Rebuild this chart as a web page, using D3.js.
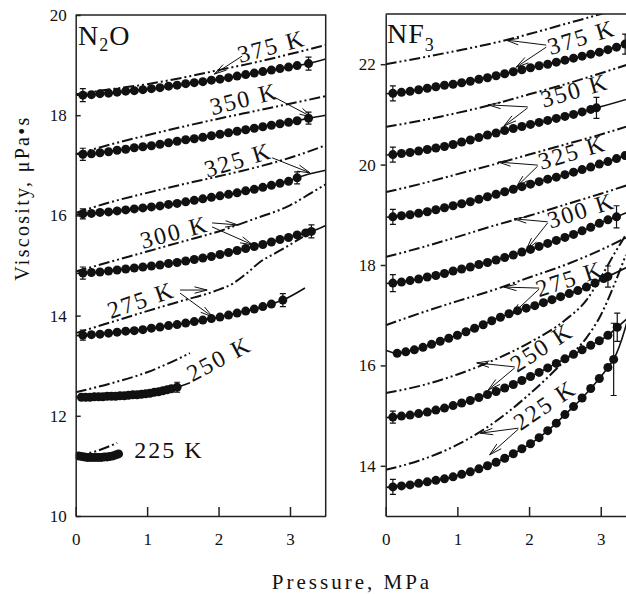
<!DOCTYPE html>
<html><head><meta charset="utf-8">
<script src="https://cdn.jsdelivr.net/npm/d3@7"></script>
<style>
body{margin:0;background:#fff}
svg{display:block}
text{font-family:"Liberation Serif","Times New Roman",serif;fill:#111}
</style>
</head><body>
<svg id="c" width="626" height="594"></svg>
<script>
// ---------------- DATA ----------------
const xTicks = [0, 1, 2, 3];
const n2oYTicks = [10, 12, 14, 16, 18, 20];
const nf3YTicks = [14, 16, 18, 20, 22];
const tempLabels = ["375 K", "350 K", "325 K", "300 K", "275 K", "250 K", "225 K"];

// N2O measured points
const n2oP375 = [0.10,0.22,0.34,0.46,0.58,0.70,0.82,0.94,1.06,1.18,1.30,1.42,1.54,1.66,1.78,1.90,2.02,2.14,2.26,2.38,2.50,2.62,2.74,2.86,2.98,3.10,3.26];
const n2oV375 = [18.40,18.41,18.43,18.44,18.46,18.48,18.49,18.51,18.53,18.55,18.58,18.60,18.63,18.65,18.67,18.70,18.72,18.75,18.78,18.81,18.84,18.87,18.90,18.93,18.96,18.99,19.03];
const n2oP350 = [0.10,0.22,0.34,0.46,0.58,0.70,0.82,0.94,1.06,1.18,1.30,1.42,1.54,1.66,1.78,1.90,2.02,2.14,2.26,2.38,2.50,2.62,2.74,2.86,2.98,3.10,3.26];
const n2oV350 = [17.22,17.23,17.25,17.27,17.30,17.32,17.35,17.37,17.39,17.42,17.45,17.48,17.51,17.53,17.56,17.59,17.62,17.65,17.68,17.71,17.74,17.77,17.80,17.83,17.86,17.89,17.94];
const n2oP325 = [0.10,0.22,0.34,0.46,0.58,0.70,0.82,0.94,1.06,1.18,1.30,1.42,1.54,1.66,1.78,1.90,2.02,2.14,2.26,2.38,2.50,2.62,2.74,2.86,2.98,3.10];
const n2oV325 = [16.03,16.04,16.06,16.07,16.09,16.11,16.13,16.15,16.17,16.19,16.22,16.24,16.27,16.30,16.33,16.36,16.39,16.42,16.45,16.49,16.52,16.56,16.60,16.64,16.68,16.75];
const n2oP300 = [0.10,0.22,0.34,0.46,0.58,0.70,0.82,0.94,1.06,1.18,1.30,1.42,1.54,1.66,1.78,1.90,2.02,2.14,2.26,2.38,2.50,2.62,2.74,2.86,2.98,3.10,3.22,3.30];
const n2oV300 = [14.85,14.86,14.87,14.89,14.91,14.93,14.95,14.97,14.99,15.01,15.04,15.06,15.09,15.12,15.15,15.18,15.22,15.26,15.30,15.34,15.38,15.42,15.47,15.52,15.56,15.61,15.65,15.68];
const n2oP275 = [0.10,0.22,0.34,0.46,0.58,0.70,0.82,0.94,1.06,1.18,1.30,1.42,1.54,1.66,1.78,1.90,2.02,2.14,2.26,2.38,2.50,2.62,2.74,2.90];
const n2oV275 = [13.61,13.62,13.63,13.65,13.67,13.69,13.70,13.72,13.75,13.77,13.80,13.82,13.85,13.88,13.91,13.94,13.97,14.01,14.05,14.09,14.13,14.18,14.23,14.31];
const n2oP250 = [0.08,0.14,0.20,0.26,0.32,0.38,0.44,0.50,0.56,0.62,0.68,0.74,0.80,0.86,0.92,0.98,1.04,1.10,1.16,1.22,1.28,1.34,1.42];
const n2oV250 = [12.37,12.37,12.37,12.38,12.38,12.38,12.39,12.39,12.39,12.40,12.40,12.41,12.42,12.42,12.43,12.44,12.45,12.47,12.48,12.50,12.52,12.54,12.57];
const n2oP225 = [0.04,0.08,0.12,0.16,0.20,0.24,0.28,0.32,0.36,0.40,0.44,0.48,0.52,0.56,0.60];
const n2oV225 = [11.20,11.19,11.18,11.17,11.17,11.17,11.17,11.17,11.17,11.18,11.18,11.19,11.20,11.22,11.24];
// N2O fitted (solid) line start value at p=0 and end point
const n2oLineStart = [18.40, 17.22, 16.02, 14.84, 13.60, 12.37, 11.21];
const n2oLineEnd = [[3.5,19.12],[3.5,18.00],[3.5,16.90],[3.5,15.80],[3.21,14.55],[1.6,12.66],null];
// N2O error bars [first point, last point] half-heights
const n2oErr = [[0.13,0.13],[0.12,0.12],[0.10,0.12],[0.12,0.13],[0.10,0.13],[0,0.10],[0,0]];
// N2O dash-dot model curves
const n2oDP375 = [0,0.5,1.0,1.5,2.0,2.5,3.0,3.5];
const n2oDV375 = [18.42,18.52,18.62,18.75,18.90,19.05,19.22,19.40];
const n2oDP350 = [0,0.5,1.0,1.5,2.0,2.5,3.0,3.5];
const n2oDV350 = [17.22,17.42,17.60,17.77,17.93,18.08,18.23,18.38];
const n2oDP325 = [0,0.5,1.0,1.5,2.0,2.5,3.0,3.5];
const n2oDV325 = [16.05,16.27,16.45,16.62,16.78,16.95,17.15,17.40];
const n2oDP300 = [0,0.5,1.0,1.5,2.0,2.5,3.0,3.3,3.5];
const n2oDV300 = [14.88,15.08,15.28,15.48,15.68,15.93,16.20,16.45,16.62];
const n2oDP275 = [0,0.5,1.0,1.5,1.95,2.2,2.4,2.58,2.8,3.04,3.18];
const n2oDV275 = [13.65,13.87,14.09,14.30,14.49,14.64,14.85,15.07,15.25,15.45,15.57];
const n2oDP250 = [0,0.5,1.0,1.6];
const n2oDV250 = [12.47,12.65,12.87,13.25];
const n2oDP225 = [0,0.3,0.58];
const n2oDV225 = [11.20,11.30,11.46];
// N2O label anchor (pressure, viscosity) and rotation
const n2oLabelPos = [[2.30,19.04],[1.91,18.00],[1.84,16.75],[0.94,15.33],[0.49,13.93],[1.63,12.67],[0.82,11.16]];
const n2oLabelAngle = [-15,-14,-17,-15,-19,-28,0];
const n2oArrows = [[2.33,19.18,1.94,18.82],[2.78,18.36,3.31,17.96],[2.75,17.15,3.28,16.85],
  [1.91,15.85,2.27,15.81],[1.91,15.77,2.48,15.41],[1.46,14.51,1.84,14.51],[1.46,14.45,1.92,13.97]];

// NF3 measured points
const nf3P375 = [0.10,0.22,0.34,0.46,0.58,0.70,0.82,0.94,1.06,1.18,1.30,1.42,1.54,1.66,1.78,1.90,2.02,2.14,2.26,2.38,2.50,2.62,2.74,2.86,2.98,3.10,3.22,3.34];
const nf3V375 = [21.42,21.44,21.46,21.49,21.52,21.55,21.58,21.60,21.63,21.66,21.70,21.73,21.77,21.81,21.85,21.89,21.93,21.97,22.00,22.04,22.08,22.12,22.16,22.20,22.24,22.29,22.34,22.40];
const nf3P350 = [0.10,0.22,0.34,0.46,0.58,0.70,0.82,0.94,1.06,1.18,1.30,1.42,1.54,1.66,1.78,1.90,2.02,2.14,2.26,2.38,2.50,2.62,2.74,2.86,2.94];
const nf3V350 = [20.20,20.22,20.24,20.27,20.30,20.33,20.36,20.40,20.45,20.49,20.54,20.59,20.63,20.68,20.72,20.76,20.80,20.84,20.88,20.92,20.96,21.00,21.05,21.10,21.13];
const nf3P325 = [0.10,0.22,0.34,0.46,0.58,0.70,0.82,0.94,1.06,1.18,1.30,1.42,1.54,1.66,1.78,1.90,2.02,2.14,2.26,2.38,2.50,2.62,2.74,2.86,2.98,3.10,3.22,3.34];
const nf3V325 = [18.96,18.98,19.00,19.03,19.06,19.10,19.14,19.18,19.22,19.26,19.31,19.36,19.41,19.46,19.51,19.56,19.61,19.66,19.71,19.75,19.80,19.85,19.90,19.95,20.01,20.06,20.12,20.18];
const nf3P300 = [0.10,0.22,0.34,0.46,0.58,0.70,0.82,0.94,1.06,1.18,1.30,1.42,1.54,1.66,1.78,1.90,2.02,2.14,2.26,2.38,2.50,2.62,2.74,2.86,2.98,3.10,3.22];
const nf3V300 = [17.64,17.66,17.69,17.72,17.76,17.79,17.83,17.88,17.92,17.96,18.01,18.05,18.10,18.15,18.20,18.26,18.31,18.37,18.43,18.49,18.55,18.61,18.68,18.75,18.83,18.90,18.96];
const nf3P275 = [0.16,0.28,0.40,0.52,0.64,0.76,0.88,1.00,1.12,1.24,1.36,1.48,1.60,1.72,1.84,1.96,2.08,2.20,2.32,2.44,2.56,2.68,2.80,2.92,3.04,3.10];
const nf3V275 = [16.24,16.27,16.31,16.36,16.42,16.48,16.54,16.60,16.67,16.74,16.81,16.89,16.96,17.03,17.09,17.14,17.19,17.25,17.31,17.37,17.43,17.49,17.56,17.64,17.73,17.77];
const nf3P250 = [0.10,0.22,0.34,0.46,0.58,0.70,0.82,0.94,1.06,1.18,1.30,1.42,1.54,1.66,1.78,1.90,2.02,2.14,2.26,2.38,2.50,2.62,2.74,2.86,2.98,3.10,3.23];
const nf3V250 = [14.97,14.99,15.01,15.04,15.07,15.11,15.15,15.20,15.25,15.30,15.36,15.42,15.48,15.55,15.62,15.70,15.78,15.86,15.95,16.04,16.13,16.22,16.31,16.40,16.49,16.60,16.76];
const nf3P225 = [0.10,0.22,0.34,0.46,0.58,0.70,0.82,0.94,1.06,1.18,1.30,1.42,1.54,1.66,1.78,1.90,2.02,2.14,2.26,2.38,2.50,2.62,2.74,2.86,2.98,3.10,3.18];
const nf3V225 = [13.58,13.60,13.62,13.65,13.68,13.71,13.74,13.78,13.83,13.88,13.94,14.00,14.07,14.15,14.24,14.34,14.44,14.56,14.70,14.85,15.02,15.18,15.35,15.54,15.74,15.96,16.12];
const nf3LineStart = [21.41, 20.19, 18.95, 17.63, 16.30, 14.96, 13.57];
const nf3LineEnd = [[3.5,22.47],[3.5,21.36],[3.5,20.27],[3.5,19.13],[3.5,18.05],[3.5,17.10],[3.5,17.60]];
const nf3Err = [[0.15,0.20],[0.15,0.21],[0.15,0],[0.17,0.22],[0,0.21],[0.12,0.28],[0.15,0.72]];
// NF3 dash-dot model curves
const nf3DP375 = [0,0.5,1.0,1.5,2.0,2.5,3.0,3.5];
const nf3DV375 = [22.00,22.13,22.27,22.42,22.60,22.80,23.00,23.22];
const nf3DP350 = [0,0.5,1.0,1.5,2.0,2.5,3.0,3.5];
const nf3DV350 = [20.75,20.88,21.03,21.20,21.40,21.60,21.82,22.05];
const nf3DP325 = [0,0.5,1.0,1.5,2.0,2.5,3.0,3.5];
const nf3DV325 = [19.45,19.62,19.81,20.00,20.20,20.40,20.60,20.82];
const nf3DP300 = [0,0.5,1.0,1.5,2.0,2.5,3.0,3.5];
const nf3DV300 = [18.16,18.35,18.56,18.78,18.98,19.20,19.42,19.65];
const nf3DP275 = [0,0.5,1.0,1.5,2.0,2.5,3.0,3.5];
const nf3DV275 = [16.80,17.05,17.28,17.50,17.75,18.00,18.30,18.65];
const nf3DP250 = [0,0.5,1.0,1.5,2.0,2.5,2.8,3.0,3.2,3.35];
const nf3DV250 = [15.45,15.60,15.82,16.10,16.45,16.90,17.30,17.75,18.25,18.60];
const nf3DP225 = [0,0.5,1.0,1.5,2.0,2.5,2.8,3.0,3.2,3.35];
const nf3DV225 = [13.92,14.12,14.42,14.85,15.42,16.10,16.55,17.00,17.65,18.20];
const nf3LabelPos = [[2.30,22.18],[2.20,21.13],[2.17,19.89],[2.30,18.72],[2.14,17.36],[1.83,15.85],[1.88,14.69]];
const nf3LabelAngle = [-17,-16,-17,-18,-18,-33,-34];
const nf3Arrows = [[2.24,22.38,1.68,22.48],[2.24,22.34,1.82,21.94],
  [1.98,21.15,1.43,21.19],[1.98,21.13,1.65,20.77],
  [2.12,19.99,1.57,20.05],[2.12,19.97,1.82,19.55],
  [2.26,18.86,1.79,18.92],[2.26,18.84,1.96,18.30],
  [2.14,17.54,1.65,17.56],[2.14,17.52,1.75,17.00],
  [1.80,15.97,1.27,16.05],[1.80,15.95,1.43,15.51],
  [1.85,14.75,1.32,14.65],[1.85,14.73,1.45,14.22]];

// ---------------- BUILD ----------------
const zip = (a, b) => a.map((v, i) => [v, b[i]]);
const n2o = {
  pts: [zip(n2oP375,n2oV375), zip(n2oP350,n2oV350), zip(n2oP325,n2oV325), zip(n2oP300,n2oV300), zip(n2oP275,n2oV275), zip(n2oP250,n2oV250), zip(n2oP225,n2oV225)],
  dash: [zip(n2oDP375,n2oDV375), zip(n2oDP350,n2oDV350), zip(n2oDP325,n2oDV325), zip(n2oDP300,n2oDV300), zip(n2oDP275,n2oDV275), zip(n2oDP250,n2oDV250), zip(n2oDP225,n2oDV225)],
  start: n2oLineStart, end: n2oLineEnd, err: n2oErr,
  labelPos: n2oLabelPos, labelAngle: n2oLabelAngle, arrows: n2oArrows,
  x: d3.scaleLinear([0, 3.5], [75.7, 325.7]),
  y: d3.scaleLinear([10, 20], [516, 15]),
  yTicks: n2oYTicks, id: "n2o"
};
const nf3 = {
  pts: [zip(nf3P375,nf3V375), zip(nf3P350,nf3V350), zip(nf3P325,nf3V325), zip(nf3P300,nf3V300), zip(nf3P275,nf3V275), zip(nf3P250,nf3V250), zip(nf3P225,nf3V225)],
  dash: [zip(nf3DP375,nf3DV375), zip(nf3DP350,nf3DV350), zip(nf3DP325,nf3DV325), zip(nf3DP300,nf3DV300), zip(nf3DP275,nf3DV275), zip(nf3DP250,nf3DV250), zip(nf3DP225,nf3DV225)],
  start: nf3LineStart, end: nf3LineEnd, err: nf3Err,
  labelPos: nf3LabelPos, labelAngle: nf3LabelAngle, arrows: nf3Arrows,
  x: d3.scaleLinear([0, 3.5], [385.7, 636.6]),
  y: d3.scaleLinear([13, 23], [516, 14]),
  yTicks: nf3YTicks, id: "nf3"
};

const svg = d3.select("#c");
const defs = svg.append("defs");
const INK = "#111";

function drawPanel(P, opts) {
  const [x0, x1] = P.x.range();
  const [yb, yt] = P.y.range();
  defs.append("clipPath").attr("id", "clip-" + P.id)
    .append("rect").attr("x", x0).attr("y", yt).attr("width", x1 - x0).attr("height", yb - yt);
  const g = svg.append("g").attr("clip-path", `url(#clip-${P.id})`);
  const line = d3.line().x(d => P.x(d[0])).y(d => P.y(d[1])).curve(d3.curveMonotoneX);

  // dash-dot-dot model curves
  g.selectAll(".dash").data(P.dash).join("path")
    .attr("d", line).attr("fill", "none").attr("stroke", INK)
    .attr("stroke-width", 2).attr("stroke-dasharray", "11,3,2,3,2,3");

  // solid fitted lines
  P.pts.forEach((pts, i) => {
    const arr = [[0, P.start[i]], ...pts];
    if (P.end[i]) arr.push(P.end[i]);
    g.append("path").attr("d", line(arr)).attr("fill", "none")
      .attr("stroke", INK).attr("stroke-width", 1.6);
  });

  // error bars
  P.pts.forEach((pts, i) => {
    const e = P.err[i];
    [[pts[0], e[0]], [pts[pts.length - 1], e[1]]].forEach(([pt, h]) => {
      if (!h) return;
      const cx = P.x(pt[0]), ya = P.y(pt[1] + h), yb2 = P.y(pt[1] - h);
      g.append("path").attr("d", `M${cx},${ya}V${yb2}M${cx - 3},${ya}H${cx + 3}M${cx - 3},${yb2}H${cx + 3}`)
        .attr("stroke", INK).attr("stroke-width", 1.2).attr("fill", "none");
    });
  });

  // points
  P.pts.forEach(pts => {
    g.selectAll(null).data(pts).join("circle")
      .attr("cx", d => P.x(d[0])).attr("cy", d => P.y(d[1])).attr("r", 4.5).attr("fill", INK);
  });

  // labels
  const lg = svg.append("g").attr("clip-path", `url(#clip-${P.id})`);
  tempLabels.forEach((t, i) => {
    const [p, v] = P.labelPos[i];
    lg.append("text").attr("transform", `translate(${P.x(p)},${P.y(v)}) rotate(${P.labelAngle[i]})`)
      .attr("font-size", 24).attr("letter-spacing", "2px").text(t);
  });
  // arrows
  P.arrows.forEach(a => {
    const sx = P.x(a[0]), sy = P.y(a[1]), ex = P.x(a[2]), ey = P.y(a[3]);
    const ang = Math.atan2(sy - ey, sx - ex), L = 13, da = 0.25;
    const h1 = [ex + L * Math.cos(ang + da), ey + L * Math.sin(ang + da)];
    const h2 = [ex + L * Math.cos(ang - da), ey + L * Math.sin(ang - da)];
    lg.append("path").attr("d", `M${sx},${sy}L${ex},${ey}M${h1[0]},${h1[1]}L${ex},${ey}L${h2[0]},${h2[1]}`)
      .attr("fill", "none").attr("stroke", INK).attr("stroke-width", 1);
  });

  // axes
  const ax = svg.append("g").attr("transform", `translate(0,${yb})`)
    .call(d3.axisBottom(P.x).tickValues(xTicks).tickFormat(d3.format("d"))
      .tickSizeInner(-9).tickSizeOuter(0).tickPadding(17));
  const ay = svg.append("g").attr("transform", `translate(${x0},0)`)
    .call(d3.axisLeft(P.y).tickValues(P.yTicks).tickFormat(d3.format("d"))
      .tickSizeInner(opts.yTickIn ? -5 : 5).tickSizeOuter(0).tickPadding(opts.yTickIn ? 9 : 5));
  [ax, ay].forEach(a => {
    a.attr("font-family", "Liberation Serif").attr("font-size", 17).attr("color", "#222");
    a.selectAll("path,line").attr("stroke-width", 1.5);
  });
  // top and right border
  svg.append("path").attr("d", `M${x0},${yt}H${x1}V${yb}`).attr("fill", "none")
    .attr("stroke", "#222").attr("stroke-width", 1.5);
}

drawPanel(n2o, { yTickIn: true });
drawPanel(nf3, { yTickIn: false });

// panel titles
const t1 = svg.append("text").attr("x", 78).attr("y", 45).attr("font-size", 28).attr("letter-spacing", "1px");
t1.append("tspan").text("N");
t1.append("tspan").attr("font-size", 18).attr("dy", 6).text("2");
t1.append("tspan").attr("dy", -6).text("O");
const t2 = svg.append("text").attr("x", 387).attr("y", 43).attr("font-size", 28).attr("letter-spacing", "1px");
t2.append("tspan").text("NF");
t2.append("tspan").attr("font-size", 18).attr("dy", 8).text("3");

// axis titles
svg.append("text").attr("transform", "translate(29,198) rotate(-90)").attr("text-anchor", "middle")
  .attr("font-size", 20).attr("letter-spacing", "2.3px").text("Viscosity, μPa•s");
svg.append("text").attr("x", 352).attr("y", 589).attr("text-anchor", "middle")
  .attr("font-size", 21).attr("letter-spacing", "3px").text("Pressure, MPa");
</script>
</body></html>
